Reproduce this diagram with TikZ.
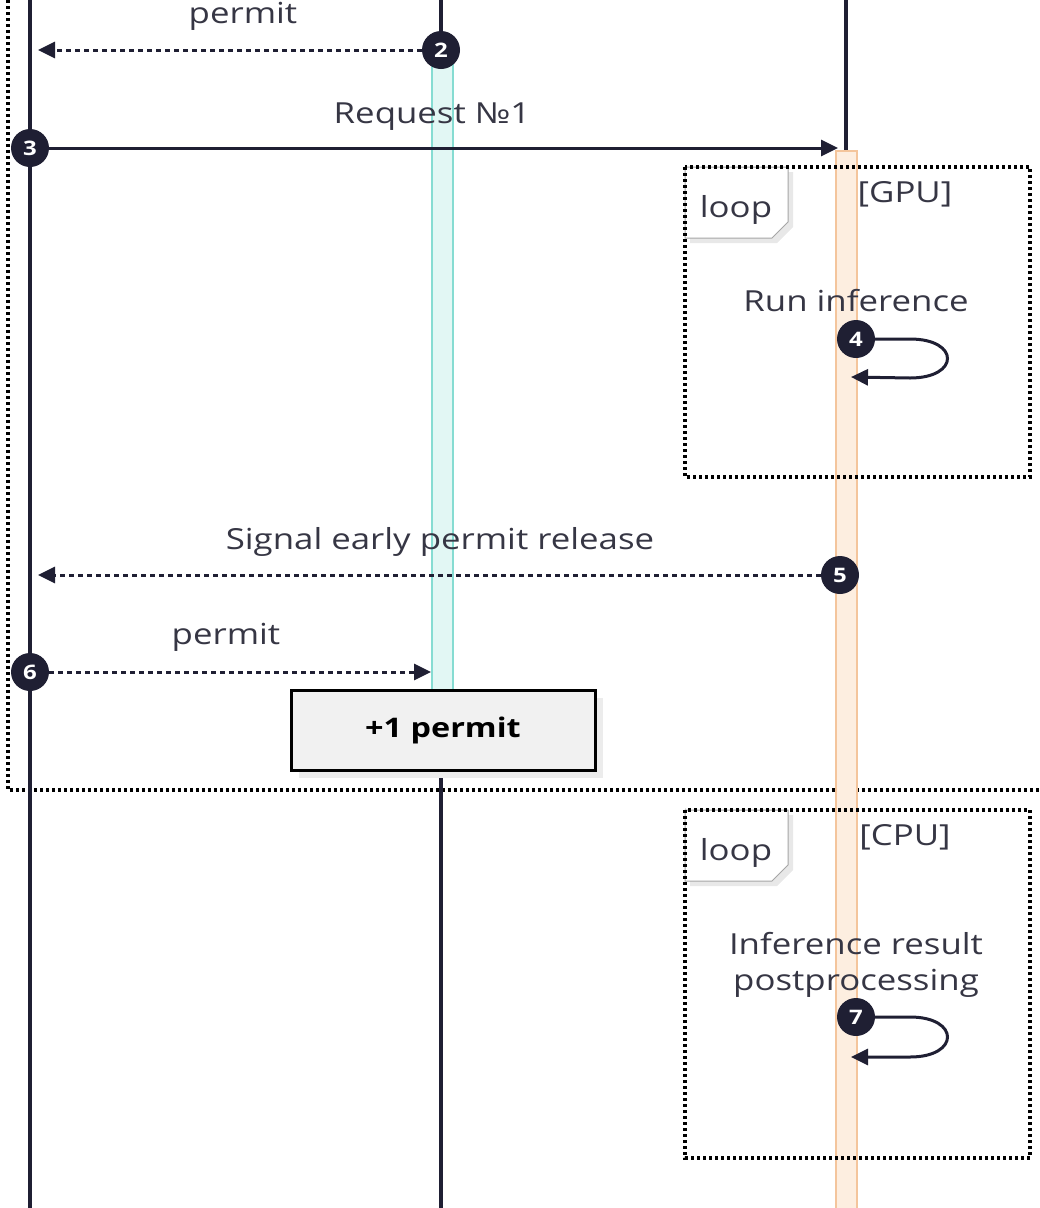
\documentclass[tikz,border=0pt]{standalone}
\usepackage{fontspec}
\setmainfont[FakeStretch=1.2]{Open Sans}
\usetikzlibrary{arrows.meta,calc}
\definecolor{ink}{HTML}{1F1F33}
\definecolor{txt}{HTML}{363644}
\definecolor{tealfill}{HTML}{E2F7F4}
\definecolor{tealline}{HTML}{86DCD2}
\definecolor{orfill}{HTML}{FDEEE0}
\definecolor{orline}{HTML}{F4C59C}
\definecolor{notefill}{HTML}{F1F1F1}
\begin{document}
\begin{tikzpicture}[x=1pt,y=-1pt,
  lifeline/.style={draw=ink,line width=3.6pt},
  frame/.style={draw=black,line width=3.5pt,dash pattern=on 3pt off 3pt},
  msg/.style={draw=ink,line width=3pt,-{Triangle[length=17pt,width=16pt]}},
  msgdot/.style={msg,dash pattern=on 5pt off 4pt},
  num/.style={circle,fill=ink,text=white,minimum size=38pt,inner sep=0pt,
    font=\bfseries\fontsize{20}{20}\selectfont},
  lbl/.style={text=txt,anchor=base,inner sep=0pt,font=\fontsize{29}{30}\selectfont},
  tab/.style={fill=white,draw=gray!70,line width=1pt},
  actteal/.style={fill=tealfill,draw=tealline,line width=2pt},
  actor/.style={fill=orfill,draw=orline,line width=2pt}]
\useasboundingbox (0,0) rectangle (1040,1208);

% outer group frame (left edge and bottom separator)
\draw[frame] (8,0) -- (8,790) -- (1040,790);

% lifelines
\draw[lifeline] (30,0) -- (30,1208);
\draw[lifeline] (441,0) -- (441,60);
\draw[lifeline] (441,770) -- (441,1208);
\draw[lifeline] (846,0) -- (846,152);

% activation bars
\filldraw[actteal] (432,62) rectangle (453,690);
\filldraw[actor] (836,151) rectangle (857,1210);

% loop frames
\foreach \top/\bot/\cond/\nm in {167/477/GPU/g, 810/1158/CPU/c}{
  \fill[gray!18] (690,\top+5) -- (793,\top+5) -- (793,\top+60) -- (777,\top+76) -- (690,\top+76) -- cycle;
  \draw[tab] (685,\top) -- (788,\top) -- (788,\top+55) -- (772,\top+71) -- (685,\top+71) -- cycle;
  \draw[frame] (685,\top) rectangle (1030,\bot);
  \node[lbl] (loop\nm) at (736,\top+50) {loop};
  \node[lbl] (cond\nm) at (905,\top+35) {[\cond]};
}

% message 2
\node[lbl] (t2) at (243,23) {permit};
\node[num] (n2) at (441,50) {2};
\coordinate (e2) at (38,50);
\draw[msgdot] (n2) -- (e2);

% message 3
\node[lbl] (t3) at (432,123) {Request №1};
\node[num] (n3) at (30,148) {3};
\coordinate (e3) at (838,148);
\draw[msg] (n3) -- (e3);

% self message 4
\node[lbl] (t4) at (856,311) {Run inference};
\node[num] (n4) at (856,339) {4};
\coordinate (e4) at (851,377);
\draw[msg] (n4.east) -- (910,339) .. controls (960,339) and (960,378) .. (910,378) -- (e4);

% message 5
\node[lbl] (t5) at (440,549) {Signal early permit release};
\node[num] (n5) at (840,575) {5};
\coordinate (e5) at (38,575);
\draw[msgdot] (n5) -- (e5);

% message 6
\node[lbl] (t6) at (226,644) {permit};
\node[num] (n6) at (30,672) {6};
\coordinate (e6) at (431,672);
\draw[msgdot] (n6) -- (e6);

% note
\fill[gray!15] (299,698) rectangle (603,778);
\node[draw=black,line width=3pt,fill=notefill,minimum width=304pt,minimum height=80pt,
  inner sep=0pt,font=\bfseries\fontsize{27}{30}\selectfont] (note) at (443,730) {+1 permit};

% self message 7
\node[lbl] (t7) at (856,954) {Inference result};
\node[lbl] (t7b) at (856,990) {postprocessing};
\node[num] (n7) at (856,1017) {7};
\coordinate (e7) at (851,1057);
\draw[msg] (n7.east) -- (910,1017) .. controls (960,1017) and (960,1057) .. (910,1057) -- (e7);
\end{tikzpicture}
\end{document}
